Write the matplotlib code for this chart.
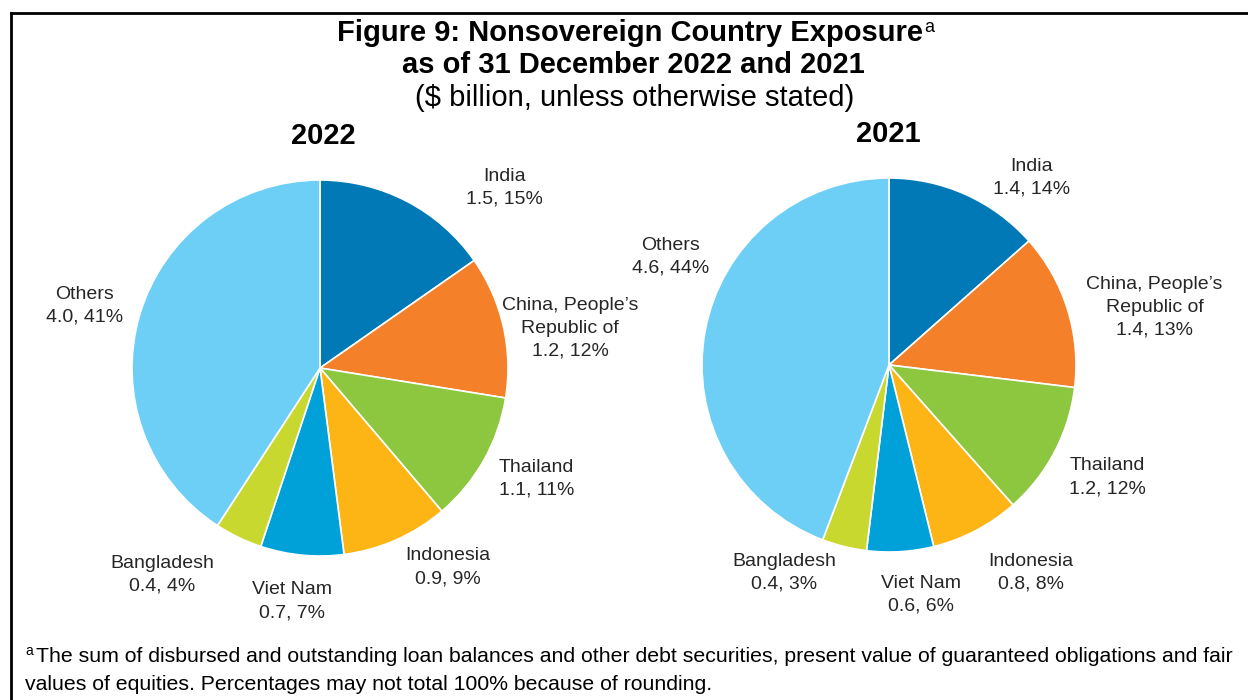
import matplotlib
matplotlib.use('Agg')
import matplotlib.pyplot as plt

plt.rcParams['font.family'] = ['Liberation Sans', 'DejaVu Sans']

countries = ['India', 'China, People\u2019s\nRepublic of', 'Thailand', 'Indonesia',
             'Viet Nam', 'Bangladesh', 'Others']
colors = ['#0079B6', '#F5802A', '#8DC63F', '#FDB515', '#00A0D8', '#C8D82E', '#6DCFF6']

values_2022 = [1.5, 1.2, 1.1, 0.9, 0.7, 0.4, 4.0]
pct_2022 = [15, 12, 11, 9, 7, 4, 41]
values_2021 = [1.4, 1.4, 1.2, 0.8, 0.6, 0.4, 4.6]
pct_2021 = [14, 13, 12, 8, 6, 3, 44]

# label centres, in units of the pie radius
label_pos_2022 = [(0.98, 0.96), (1.33, 0.21), (1.15, -0.59), (0.68, -1.06),
                  (-0.15, -1.24), (-0.84, -1.10), (-1.25, 0.33)]
label_pos_2021 = [(0.76, 1.00), (1.42, 0.31), (1.17, -0.60), (0.76, -1.11),
                  (0.17, -1.23), (-0.56, -1.11), (-1.17, 0.58)]

W, H = 1248, 700
fig = plt.figure(figsize=(W / 100, H / 100), dpi=100)


def pie_axes(cx, cy, r, lim=1.6):
    size = 2 * lim * r
    ax = fig.add_axes([(cx - size / 2) / W, (H - cy - size / 2) / H, size / W, size / H])
    ax.set_xlim(-lim, lim)
    ax.set_ylim(-lim, lim)
    ax.set_aspect('equal')
    ax.axis('off')
    return ax


def draw_pie(ax, values, pct, label_pos):
    ax.pie(values, colors=colors, startangle=90, counterclock=False, radius=1,
           wedgeprops=dict(edgecolor='white', linewidth=1.2))
    ax.set_xlim(-1.6, 1.6)
    ax.set_ylim(-1.6, 1.6)
    for name, v, p, (x, y) in zip(countries, values, pct, label_pos):
        ax.text(x, y, '%s\n%.1f, %d%%' % (name, v, p), ha='center', va='center',
                fontsize=14, color='#262626', linespacing=1.45)


ax1 = pie_axes(320, 368, 188)
draw_pie(ax1, values_2022, pct_2022, label_pos_2022)
ax2 = pie_axes(889, 365, 187)
draw_pie(ax2, values_2021, pct_2021, label_pos_2021)

# frame around the chart
fig.add_artist(plt.Line2D([11 / W, 11 / W], [0, 1 - 13 / H], color='black', lw=2,
                          transform=fig.transFigure))
fig.add_artist(plt.Line2D([11 / W, 1], [1 - 13 / H, 1 - 13 / H], color='black', lw=2,
                          transform=fig.transFigure))

t1 = fig.text(630 / W, 1 - 33 / H, 'Figure 9: Nonsovereign Country Exposure',
              ha='center', va='center', fontsize=21, fontweight='bold')
fig.text(633 / W, 1 - 65 / H, 'as of 31 December 2022 and 2021',
         ha='center', va='center', fontsize=21, fontweight='bold')
fig.text(635 / W, 1 - 98 / H, '($ billion, unless otherwise stated)',
         ha='center', va='center', fontsize=21)
fig.text(323 / W, 1 - 136 / H, '2022', ha='center', va='center',
         fontsize=21, fontweight='bold')
fig.text(888 / W, 1 - 134 / H, '2021', ha='center', va='center',
         fontsize=21, fontweight='bold')

# superscript note marker after the title
fig.canvas.draw()
bb = t1.get_window_extent()
fig.text(bb.x1 / W + 1 / W, 1 - 27 / H, 'a', ha='left', va='center', fontsize=13)

fig.text(25 / W, 1 - 651 / H, 'a', ha='left', va='center', fontsize=10)
fig.text(36 / W, 1 - 656 / H,
         'The sum of disbursed and outstanding loan balances and other debt securities, '
         'present value of guaranteed obligations and fair',
         ha='left', va='center', fontsize=15.3)
fig.text(25 / W, 1 - 684 / H,
         'values of equities. Percentages may not total 100% because of rounding.',
         ha='left', va='center', fontsize=15.3)

fig.savefig('out.png', dpi=100)
